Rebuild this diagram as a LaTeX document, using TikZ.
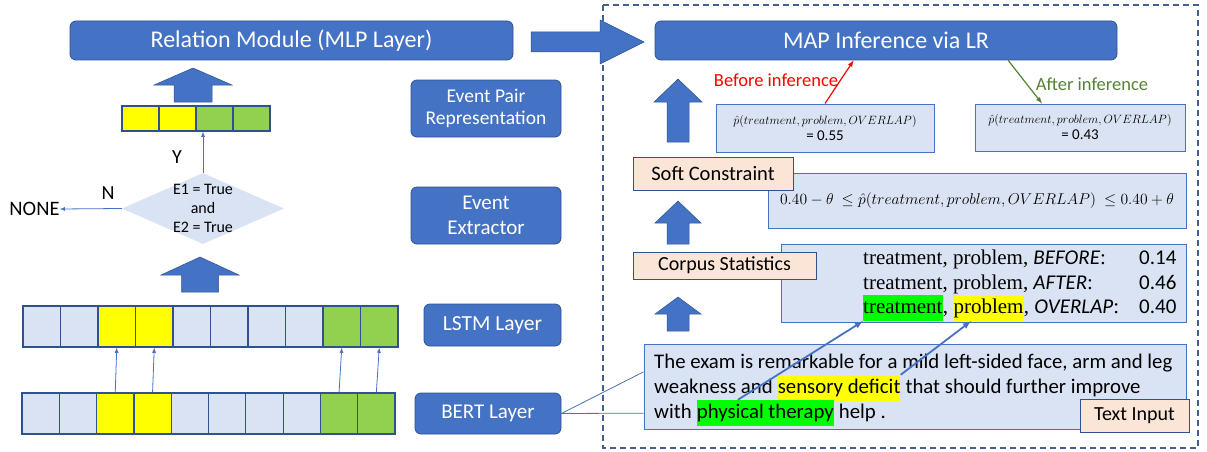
\documentclass[tikz,border=0pt]{standalone}
\usepackage{fix-cm}
\usepackage{fontspec}
\setmainfont{Carlito}
\newfontfamily\statserif{Liberation Serif}
\usetikzlibrary{shapes.geometric, calc, positioning}
\definecolor{boxblue}{HTML}{4472C4}
\definecolor{edgeblue}{HTML}{2F528F}
\definecolor{paleblue}{HTML}{DAE3F3}
\definecolor{palepink}{HTML}{FBE5D6}
\definecolor{cellyellow}{HTML}{FFFF00}
\definecolor{cellgreen}{HTML}{92D050}
\definecolor{hlgreen}{HTML}{00FF00}
\definecolor{framegray}{HTML}{44608F}
\definecolor{aftergreen}{HTML}{548235}
\newcommand\relname[1]{{\normalfont\itshape #1}}

\begin{document}
\begin{tikzpicture}[x=1pt, y=-1pt]
			\tikzstyle{bluebox}=[
			draw=edgeblue,
			fill=boxblue,
			rounded corners=6pt,
			text=white,
			align=center,
			inner sep=0,
			line width=0.8pt
			]
			\tikzstyle{lightbox}=[
			draw=boxblue,
			fill=paleblue,
			inner sep=0,
			line width=1pt
			]
			\tikzstyle{pinkbox}=[
			draw=edgeblue,
			fill=palepink,
			inner sep=0,
			line width=1pt
			]
			\tikzstyle{cell}=[
			draw=edgeblue,
			line width=1.2pt,
			inner sep=0
			]
			\tikzstyle{txt}=[inner sep=0, font=\fontsize{20.8}{24}\selectfont]
			\tikzstyle{stat}=[inner sep=0, font=\fontsize{21}{24}\selectfont\statserif]
			\tikzstyle{hl}=[inner xsep=0, inner ysep=3pt, text height=15pt, text depth=5pt]
			\tikzstyle{thinarrow}=[draw=boxblue, line width=0.8pt, -latex]
			\tikzstyle{bigarrow}=[fill=boxblue, draw=edgeblue, line width=0.5pt]
			\useasboundingbox (0,0) rectangle (1207,452);
			%
			\draw[framegray, line width=1.5pt, dash pattern=on 6pt off 4pt] (603,5) rectangle (1198,448);
			%
			\node[bluebox, minimum width=443pt, minimum height=39pt, font=\fontsize{24}{28}\selectfont] (relation) at (291.5,40.5) {Relation Module (MLP Layer)};
			\node[bluebox, minimum width=462pt, minimum height=39pt, font=\fontsize{24}{28}\selectfont] (map) at (886,40.5) {MAP Inference via LR};
			\node[bluebox, minimum width=150pt, minimum height=57pt, font=\fontsize{19.5}{22}\selectfont] (pairrep) at (486,108.5) {Event Pair\\Representation};
			\node[bluebox, minimum width=150pt, minimum height=57pt, font=\fontsize{21}{25}\selectfont] (extractor) at (486,215.5) {Event\\Extractor};
			\node[bluebox, minimum width=137pt, minimum height=42pt, font=\fontsize{21.5}{25}\selectfont] (lstm) at (492.5,325) {LSTM Layer};
			\node[bluebox, minimum width=146pt, minimum height=41pt, font=\fontsize{21}{25}\selectfont] (bert) at (488,413.5) {BERT Layer};
			%
			\fill[bigarrow] (531,32) -- (600,32) -- (600,20) -- (644,42) -- (600,64) -- (600,52) -- (531,52) -- cycle;
			\foreach \x/\t/\b/\e/\h/\s in {193/68/85/102/39/19, 200/257/275/292/39/18.5, 678/79/102/142/24/11, 678/201/223/244/23/11, 678/297/314/331/23/11}
			\fill[bigarrow] (\x,\t) -- (\x+\h,\b) -- (\x+\s,\b) -- (\x+\s,\e) -- (\x-\s,\e) -- (\x-\s,\b) -- (\x-\h,\b) -- cycle;
			%
			\foreach \c [count=\i] in {cellyellow,cellyellow,cellgreen,cellgreen}
			\node[cell, fill=\c, minimum width=37pt, minimum height=25pt] (pair\i) at (103.5+37*\i,118.5) {};
			\foreach \c [count=\i] in {paleblue,paleblue,cellyellow,cellyellow,paleblue,paleblue,paleblue,paleblue,cellgreen,cellgreen}
			{
			\node[cell, fill=\c, minimum width=37.5pt, minimum height=41pt] (l\i) at (4.25+37.5*\i,326.5) {};
			\node[cell, fill=\c, minimum width=37.3pt, minimum height=41pt] (b\i) at (3.35+37.3*\i,413.5) {};
			}
			\foreach \i in {3,4,9,10}
			\draw[thinarrow] (b\i.north) -- (l\i.south);
			%
			\node[diamond, fill=paleblue, minimum width=162pt, minimum height=71pt, inner sep=0] (cond) at (203,208.5) {};
			\node[align=center, inner sep=0, font=\fontsize{16}{19}\selectfont] (condtext) at (cond) {E1 = True\\and\\E2 = True};
			\node[inner sep=0, font=\fontsize{20.5}{24}\selectfont] (none) at (34.5,209) {NONE};
			\node[inner sep=0, font=\fontsize{20}{24}\selectfont] (nlabel) at (108,193) {N};
			\node[inner sep=0, font=\fontsize{20}{24}\selectfont] (ylabel) at (177,157) {Y};
			\draw[thinarrow] (cond.west) -- (none.east);
			\draw[thinarrow] (cond.north) -- (cond.north |- pair3.south);
			%
			\node[lightbox, minimum width=218pt, minimum height=48pt] (before) at (825,128) {};
			\node[align=center, inner sep=0, font=\fontsize{12}{16}\selectfont] (beforetext) at (before) {$\hat{p}(treatment, problem, OVERLAP)$\\\fontsize{15}{16}\selectfont = 0.55};
			\node[lightbox, minimum width=210pt, minimum height=47pt] (after) at (1080,127.5) {};
			\node[align=center, inner sep=0, font=\fontsize{12}{16}\selectfont] (aftertext) at (after) {$\hat{p}(treatment, problem, OVERLAP)$\\\fontsize{15}{16}\selectfont = 0.43};
			\node[inner sep=0, text=red, font=\fontsize{18.5}{22}\selectfont] (beforelabel) at (776,80) {Before inference};
			\node[inner sep=0, text=aftergreen, font=\fontsize{18.5}{22}\selectfont] (afterlabel) at (1092,84) {After inference};
			\draw[red, line width=1.2pt, -latex] (before.north) -- ($(map.south west)!0.43!(map.south east)$);
			\draw[aftergreen, line width=1.2pt, -latex] ($(map.south west)!0.764!(map.south east)$) -- ($(after.north west)!0.32!(after.north east)$);
			%
			\node[lightbox, minimum width=418pt, minimum height=55pt, font=\fontsize{15.6}{18}\selectfont] (constraint) at (977,200.5) {$0.40-\theta\ \le \hat{p}(treatment, problem, OVERLAP)\ \le 0.40+\theta$};
			\node[pinkbox, minimum width=160pt, minimum height=33pt, font=\fontsize{20.5}{24}\selectfont] (soft) at (713,173.5) {Soft Constraint};
			%
			\node[lightbox, minimum width=405pt, minimum height=78pt] (stats) at (983.5,283) {};
			\node[pinkbox, minimum width=183pt, minimum height=27pt, font=\fontsize{20}{24}\selectfont] (corpus) at (724.5,265.5) {Corpus Statistics};
			\node[stat, anchor=base west] (s1) at (863,264) {treatment, problem, \relname{BEFORE}:};
			\node[stat, anchor=base west] (s2) at (863,289) {treatment, problem, \relname{AFTER}:};
			\node[stat, hl, fill=hlgreen, anchor=base west] (trt) at (863,313) {treatment};
			\node[stat, anchor=base west] (c1) at (trt.base east) {,};
			\node[stat, hl, fill=cellyellow, anchor=base west] (prb) at ([xshift=5pt]c1.base east) {problem};
			\node[stat, anchor=base west] (c2) at (prb.base east) {, \relname{OVERLAP}:};
			\node[txt, font=\fontsize{21}{24}\selectfont, anchor=base west] (v1) at (1139,264) {0.14};
			\node[txt, font=\fontsize{21}{24}\selectfont, anchor=base west] (v2) at (1139,289) {0.46};
			\node[txt, font=\fontsize{21}{24}\selectfont, anchor=base west] (v3) at (1139,313) {0.40};
			%
			\node[lightbox, minimum width=542pt, minimum height=85pt] (input) at (915,386.5) {};
			\node[txt, anchor=base west] (t1) at (654,368) {The exam is remarkable for a mild left-sided face, arm and leg};
			\node[txt, anchor=base west] (t2) at (654,393) {weakness and};
			\node[txt, hl, fill=cellyellow, anchor=base west] (sd) at ([xshift=4.7pt]t2.base east) {sensory deficit};
			\node[txt, anchor=base west] (t3) at (sd.base east) {~that should further improve};
			\node[txt, anchor=base west] (t4) at (654,418) {with};
			\node[txt, hl, fill=hlgreen, anchor=base west] (phys) at ([xshift=4.7pt]t4.base east) {physical therapy};
			\node[txt, anchor=base west] (t5) at (phys.base east) {~help .};
			\node[pinkbox, minimum width=109pt, minimum height=33pt, font=\fontsize{20}{24}\selectfont] (textinput) at (1134.5,415.5) {Text Input};
			%
			\draw[boxblue, line width=1.8pt, -latex] ($(phys.north west)!0.3!(phys.north east)$) -- (trt.south west);
			\draw[boxblue, line width=1.8pt, -latex] (sd.north east) -- ($(prb.south west)!0.25!(prb.south east)$);
			\draw[boxblue, line width=0.8pt] (bert.east) -- ($(input.north west)!0.33!(input.south west)$);
			\draw[boxblue, line width=0.8pt] (bert.east) -- ($(input.north west)!0.81!(input.south west)$);
		\end{tikzpicture}
\end{document}
